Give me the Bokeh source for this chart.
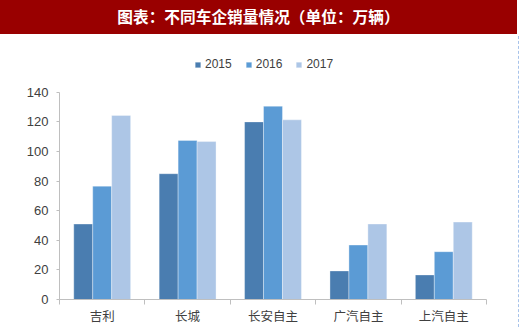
from bokeh.plotting import figure
from bokeh.models import Range1d, FixedTicker, Legend, LegendItem, ColumnDataSource, Div
from bokeh.layouts import column, row
from bokeh.embed import file_html
from bokeh.resources import INLINE

title_text = "图表：不同车企销量情况（单位：万辆）"
categories = ["吉利", "长城", "长安自主", "广汽自主", "上汽自主"]
years = ["2015", "2016", "2017"]
v2015 = [51, 85, 120, 19.3, 16.6]
v2016 = [76.6, 107.5, 130.6, 36.8, 32.3]
v2017 = [124.4, 106.7, 121.4, 51, 52.3]
colors = ["#4a7db0", "#5b9bd5", "#adc6e6"]
y_ticks = [0, 20, 40, 60, 80, 100, 120, 140]
y_max = 140

title_html = (
    '<div style="width:517px;height:34px;border-right:1px dashed #a8c3ea;'
    'border-bottom:1px dashed #a8c3ea;">'
    '<div style="width:517px;height:34px;line-height:34px;background:#990000;color:white;'
    'text-align:center;font-family:\'Noto Sans CJK SC\';font-weight:bold;font-size:15.7px;">'
    + title_text + '</div></div>'
)
title = Div(text=title_html, width=520, height=36, margin=0)

# frame runs from just below the title (y=36) to the x axis (y=300); 140 sits at y=92
frame_h = 264
p = figure(width=518, height=291, output_backend="svg", toolbar_location=None,
           x_range=Range1d(0, len(categories)), y_range=Range1d(0, y_max * frame_h / 208),
           min_border_left=59, min_border_right=32, min_border_top=0, min_border_bottom=27,
           margin=0)
p.background_fill_color = "white"
p.border_fill_color = "white"
p.outline_line_color = None
p.xgrid.visible = False
p.ygrid.visible = False

width = 0.222
series = [v2015, v2016, v2017]
offsets = [-width, 0, width]
renderers = []
for vals, off, col in zip(series, offsets, colors):
    src = ColumnDataSource(dict(x=[i + 0.5 + off for i in range(len(categories))], top=vals))
    r = p.vbar(x="x", top="top", width=width, bottom=0, source=src,
               fill_color=col, line_color="white", line_alpha=0.35, line_width=1)
    renderers.append(r)

xa = p.xaxis[0]
centers = [i + 0.5 for i in range(len(categories))]
xa.ticker = FixedTicker(ticks=centers, minor_ticks=list(range(len(categories) + 1)))
xa.major_label_overrides = {c: lab for c, lab in zip(centers, categories)}
xa.major_tick_out = 0
xa.major_tick_in = 0
xa.minor_tick_out = 5
xa.minor_tick_in = 0
xa.minor_tick_line_color = "#bfbfbf"
xa.axis_line_color = "#bfbfbf"
xa.major_label_text_font = "Noto Sans CJK SC"
xa.major_label_text_font_size = "12.5px"
xa.major_label_text_color = "#404040"
xa.major_label_standoff = 1

ya = p.yaxis[0]
ya.ticker = FixedTicker(ticks=y_ticks)
ya.bounds = (0, y_max)
ya.major_tick_out = 3
ya.major_tick_in = 0
ya.minor_tick_out = 0
ya.minor_tick_in = 0
ya.major_tick_line_color = "#bfbfbf"
ya.axis_line_color = "#bfbfbf"
ya.major_label_text_font = "Liberation Sans"
ya.major_label_text_font_size = "13px"
ya.major_label_text_color = "#404040"
ya.major_label_standoff = 8

legend = Legend(items=[LegendItem(label=y, renderers=[r]) for y, r in zip(years, renderers)],
                orientation="horizontal", location=(135, 228),
                glyph_width=7, glyph_height=7, label_standoff=4, spacing=13,
                padding=0, margin=0, border_line_color=None, background_fill_alpha=0,
                label_text_font="Liberation Sans", label_text_font_size="12px",
                label_text_color="#404040", label_height=14)
p.add_layout(legend)

edge = Div(text='<div style="width:0;height:291px;border-left:1px dashed #a8c3ea;"></div>',
           width=2, height=291, margin=0)

layout = column(title, row(p, edge, spacing=0, margin=0), spacing=0, margin=0)
open("out.html", "w").write(file_html(layout, INLINE))
